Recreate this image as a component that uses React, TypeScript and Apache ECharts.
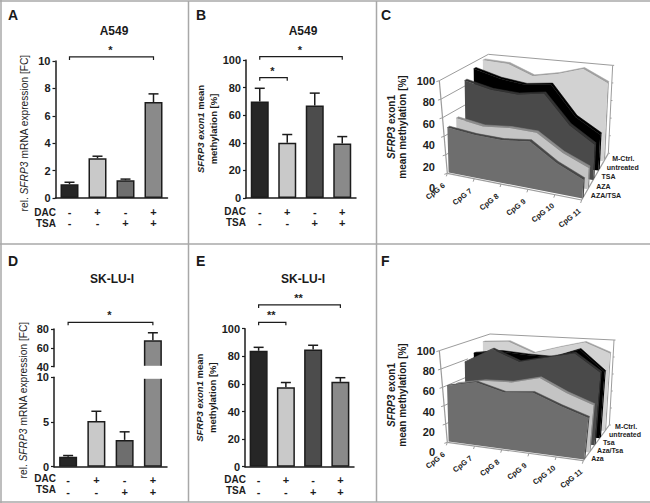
import React, { useEffect, useRef } from "react";
import * as echarts from "echarts";

const FONT = "Liberation Sans";
const INK = "#1c1c1c";

// ---------- bar panel data ----------
const dacRow = ["-", "+", "-", "+"];
const tsaRow = ["-", "-", "+", "+"];
const groupLabels = dacRow.map((d, i) => `${d}\n${tsaRow[i]}`);

const aMeans = [1.0, 2.9, 1.3, 7.0];
const aTops = [1.15, 3.05, 1.38, 7.6];
const bMeans = [70, 40, 67, 39.5];
const bTops = [79.5, 46, 76, 44.5];
const dMeans = [1.1, 5.1, 3.0, 68];
const dTops = [1.25, 6.2, 3.9, 76];
const eMeans = [84, 57.5, 85, 61.5];
const eTops = [86.5, 61, 88, 64.5];

// ---------- 3D panel data (front to back) ----------
const cpgLabels = ["CpG 6", "CpG 7", "CpG 8", "CpG 9", "CpG 10", "CpG 11"];
const percentTicks = [0, 20, 40, 60, 80, 100];
const cDepthLabels = ["AZA/TSA", "AZA", "TSA", "untreated", "M-Ctrl."];
const cAzaTsa = [48.6, 45, 44, 47, 29.5, 18];
const cAza = [53, 48, 50, 49, 32, 21];
const cTsa = [88, 81, 79, 83, 53, 36];
const cUntreated = [95, 87, 83, 86, 54, 38];
const cMCtrl = [98.5, 97, 86, 91, 99, 86];
const fDepthLabels = ["Aza", "Aza/Tsa", "Tsa", "untreated", "M-Ctrl."];
const fAza = [61, 68, 60, 63, 52, 43];
const fAzaTsa = [59, 65, 66, 73.5, 60, 50];
const fTsa = [79, 96, 84, 91, 98, 79];
const fUntreated = [85, 89, 87, 86, 97, 74];
const fMCtrl = [94, 96, 84, 92.5, 100, 89];

const slabFill = ["#6e6e6e", "#c4c4c4", "#4a4a4a", "#000000", "#d2d2d2"];
const slabEdge = ["#474747", "#8c8c8c", "#333333", "#000000", "#a0a0a0"];

type Pt = [number, number];
type Cube = { fbl: Pt; ftl: Pt; bbl: Pt; btl: Pt; fbr: Pt; ftr: Pt; bbr: Pt; btr: Pt };

const mix = (a: Pt, b: Pt, t: number): Pt => [a[0] + (b[0] - a[0]) * t, a[1] + (b[1] - a[1]) * t];
const project = (c: Cube, x: number, v: number, d: number): Pt => {
  const bottom = mix(mix(c.fbl, c.fbr, x), mix(c.bbl, c.bbr, x), d);
  const top = mix(mix(c.ftl, c.ftr, x), mix(c.btl, c.btr, x), d);
  return mix(bottom, top, v / 100);
};

const option: any = {
  animation: false,
  backgroundColor: "#ffffff",
  textStyle: { fontFamily: FONT },
  title: [],
  grid: [],
  xAxis: [],
  yAxis: [],
  series: [],
  graphic: [],
};

function addTitle(text: string, left: number, top: number, size: number, center: boolean) {
  option.title.push({
    text,
    left,
    top,
    padding: 0,
    textAlign: center ? "center" : "left",
    textStyle: { fontFamily: FONT, fontSize: size, fontWeight: "bold", color: "#1a1a1a" },
  });
}

function addGrid(left: number, top: number, width: number, height: number, xShow: boolean, yCfg: any) {
  const idx = option.grid.length;
  option.grid.push({ left, top, width, height });
  option.xAxis.push({
    type: "category",
    gridIndex: idx,
    data: groupLabels,
    show: xShow,
    axisLine: { onZero: false, lineStyle: { color: INK, width: 1.5 } },
    axisTick: { alignWithLabel: true, length: 3, lineStyle: { color: INK, width: 1.2 } },
    axisLabel: {
      interval: 0,
      margin: 8,
      fontFamily: FONT,
      fontSize: 11,
      fontWeight: "bold",
      color: INK,
      lineHeight: 11.5,
      verticalAlign: "top",
    },
  });
  option.yAxis.push({
    type: "value",
    gridIndex: idx,
    axisLine: { show: true, lineStyle: { color: INK, width: 1.5 } },
    axisTick: { show: true, length: 3, lineStyle: { color: INK, width: 1.2 } },
    axisLabel: { margin: 5, fontFamily: FONT, fontSize: 11, fontWeight: "bold", color: INK },
    splitLine: { show: false },
    ...yCfg,
  });
  return idx;
}

function addBars(idx: number, means: (number | null)[], tops: (number | null)[], colors: string[]) {
  option.series.push({
    type: "bar",
    xAxisIndex: idx,
    yAxisIndex: idx,
    data: means,
    barWidth: 18,
    itemStyle: { color: (p: any) => colors[p.dataIndex], borderColor: INK, borderWidth: 1.5 },
  });
  const errData = means
    .map((m, i) => [i, m, tops[i]])
    .filter((r) => r[1] !== null && r[2] !== null);
  option.series.push({
    type: "custom",
    xAxisIndex: idx,
    yAxisIndex: idx,
    encode: { x: 0, y: [1, 2] },
    data: errData,
    z: 3,
    renderItem: (_: any, api: any) => {
      const i = api.value(0);
      const a = api.coord([i, api.value(1)]);
      const b = api.coord([i, api.value(2)]);
      const st = { stroke: INK, lineWidth: 1.5, fill: "none" };
      return {
        type: "group",
        children: [
          { type: "line", shape: { x1: a[0], y1: a[1], x2: b[0], y2: b[1] }, style: st },
          { type: "line", shape: { x1: b[0] - 5, y1: b[1], x2: b[0] + 5, y2: b[1] }, style: st },
        ],
      };
    },
  });
}

function addBracket(idx: number, rows: number[][], stars: string[]) {
  option.series.push({
    type: "custom",
    xAxisIndex: idx,
    yAxisIndex: idx,
    encode: { x: [0, 1], y: 2 },
    data: rows,
    z: 4,
    renderItem: (p: any, api: any) => {
      const a = api.coord([api.value(0), api.value(2)]);
      const b = api.coord([api.value(1), api.value(2)]);
      return {
        type: "group",
        children: [
          {
            type: "polyline",
            shape: { points: [[a[0], a[1] + 3], a, b, [b[0], b[1] + 3]] },
            style: { stroke: INK, lineWidth: 1.2, fill: "none" },
          },
          {
            type: "text",
            x: (a[0] + b[0]) / 2 - 1,
            y: a[1] - 7,
            style: {
              text: stars[p.dataIndex],
              fontFamily: FONT,
              fontSize: 11,
              fontWeight: "bold",
              fill: INK,
              align: "center",
              verticalAlign: "middle",
            },
          },
        ],
      };
    },
  });
}

function rowCaptions(right: number, y1: number, y2: number) {
  [["DAC", y1], ["TSA", y2]].forEach(([t, y]) => {
    option.graphic.push({
      type: "text",
      x: right,
      y,
      style: {
        text: t,
        fontFamily: FONT,
        fontSize: 10,
        fontWeight: "bold",
        fill: INK,
        align: "right",
        verticalAlign: "middle",
      },
    });
  });
}

const richRegular = {
  a: { fontFamily: FONT, fontSize: 10.2, color: INK },
  i: { fontFamily: FONT, fontSize: 10.2, fontStyle: "italic", color: INK },
};
const richBold = {
  a: { fontFamily: FONT, fontSize: 9.5, fontWeight: "bold", color: INK, lineHeight: 13 },
  i: { fontFamily: FONT, fontSize: 9.5, fontWeight: "bold", fontStyle: "italic", color: INK, lineHeight: 13 },
};
const nameRegular = "{a|rel. }{i|SFRP3}{a| mRNA expression [FC]}";
const nameBold = "{i|SFRP3 exon1}{a| mean}\n{a|methylation [%]}";
const percentAxis = { min: 0, max: 100, interval: 20 };

// Panel A
let g = addGrid(55.5, 61, 112, 137, true, {
  min: 0, max: 10, interval: 2, name: nameRegular, nameLocation: "middle", nameGap: 26,
  nameTextStyle: { rich: richRegular, padding: [0, 7, 0, 0] },
});
addBars(g, aMeans, aTops, ["#262626", "#c9c9c9", "#6e6e6e", "#8a8a8a"]);
addBracket(g, [[0, 3, 10.3]], ["*"]);

// Panel B
g = addGrid(246, 60, 110, 138, true, {
  ...percentAxis, name: nameBold, nameLocation: "middle", nameGap: 22,
  nameTextStyle: { rich: richBold },
});
addBars(g, bMeans, bTops, ["#262626", "#c9c9c9", "#4c4c4c", "#8a8a8a"]);
addBracket(g, [[0, 3, 102.4], [0, 1, 87.2]], ["*", "*"]);

// Panel D (broken axis: two stacked grids)
const dColors = ["#262626", "#c9c9c9", "#6e6e6e", "#8a8a8a"];
g = addGrid(54, 329, 113, 37.7, false, { min: 40, max: 80, interval: 20 });
addBars(g, [null, null, null, dMeans[3]], [null, null, null, dTops[3]], dColors);
addBracket(g, [[0, 3, 87.1]], ["*"]);
g = addGrid(54, 377.3, 113, 89.4, true, {
  min: 0, max: 10, interval: 5, name: nameRegular, nameLocation: "middle", nameGap: 26,
  nameTextStyle: { rich: richRegular, padding: [0, 0, 0, 44] },
});
addBars(g, [dMeans[0], dMeans[1], dMeans[2], dMeans[3]], [dTops[0], dTops[1], dTops[2], null], dColors);
// White gap of the broken bar: hides the bar's clipped edges
option.graphic.push({
  type: "rect",
  z: 100,
  shape: { x: 141, y: 365.8, width: 24, height: 13 },
  style: { fill: "#ffffff" },
  silent: true,
});

// Panel E
g = addGrid(245, 328.7, 109, 138, true, {
  ...percentAxis, name: nameBold, nameLocation: "middle", nameGap: 22,
  nameTextStyle: { rich: richBold },
});
addBars(g, eMeans, eTops, ["#262626", "#c9c9c9", "#4c4c4c", "#8a8a8a"]);
addBracket(g, [[0, 3, 117.2], [0, 1, 104.6]], ["**", "**"]);

// Titles
addTitle("A", 8, 8, 14, false);
addTitle("B", 196, 8, 14, false);
addTitle("C", 381, 8, 14, false);
addTitle("D", 8, 254, 14, false);
addTitle("E", 196, 254, 14, false);
addTitle("F", 381, 254, 14, false);
addTitle("A549", 114, 25, 12, true);
addTitle("A549", 303, 25, 12, true);
addTitle("SK-LU-I", 112, 273, 12, true);
addTitle("SK-LU-I", 303, 273, 12, true);

rowCaptions(56, 212, 223.5);
rowCaptions(246, 211, 222.5);
rowCaptions(56, 478, 489.5);
rowCaptions(246, 479, 490.5);

// Panel borders
[
  [0, 1, 650, 1], [1, 0, 1, 503], [0, 244, 650, 244], [0, 502, 650, 502],
  [188.5, 1, 188.5, 502], [376.5, 1, 376.5, 502],
].forEach(([x1, y1, x2, y2]) => {
  option.graphic.push({
    type: "line", shape: { x1, y1, x2, y2 }, style: { stroke: "#a8a8a8", lineWidth: 1.5 }, silent: true,
  });
});

// ---------- 3D panels ----------
function add3D(
  ox: number,
  oy: number,
  frameZ: Record<keyof Cube, Pt>,
  slabZ: Record<keyof Cube, Pt>,
  rows: number[][],
  depthLabels: string[],
  labelDrop: number,
  tickRight: number,
  nameY: number,
  labelStart: number,
  labelStep: number,
) {
  const toPx = (z: Record<keyof Cube, Pt>): Cube => {
    const out: any = {};
    (Object.keys(z) as (keyof Cube)[]).forEach((k) => {
      out[k] = [ox + z[k][0] / 3, oy + z[k][1] / 3];
    });
    return out;
  };
  const frame = toPx(frameZ);
  const slab = toPx(slabZ);
  const lineCol = "#9c9c9c";
  const seg = (a: Pt, b: Pt, w = 1) => ({
    type: "line",
    shape: { x1: a[0], y1: a[1], x2: b[0], y2: b[1] },
    style: { stroke: lineCol, lineWidth: w },
  });
  const label = (text: string, x: number, y: number, size: number, align: string, rotation = 0) => ({
    type: "text",
    x,
    y,
    rotation,
    style: {
      text,
      fontFamily: FONT,
      fontSize: size,
      fontWeight: "bold",
      fill: INK,
      align,
      verticalAlign: "middle",
    },
  });

  // Axes of the box: walls, ticks and labels
  option.series.push({
    type: "custom",
    coordinateSystem: "none",
    data: [[0]],
    z: 1,
    silent: true,
    renderItem: () => {
      const children: any[] = [
        seg(frame.ftl, frame.fbl, 1.2),
        seg(frame.ftl, frame.btl),
        seg(frame.btl, frame.btr),
        seg(frame.btr, frame.bbr),
        seg(frame.fbl, frame.fbr, 1.2),
        seg(frame.fbr, frame.bbr, 1.2),
      ];
      percentTicks.forEach((v) => {
        const p = project(frame, 0, v, 0);
        if (v > 0 && v < 100) children.push(seg(p, project(frame, 0, v, 0.55)));
        children.push(seg(p, [p[0] - 3, p[1] + 1]));
        const q = project(frame, 1, v, 1);
        children.push(seg(q, [q[0] + 1.5, q[1]]));
        children.push(label(String(v), tickRight, p[1] + (labelDrop * (100 - v)) / 100, 11, "right"));
      });
      cpgLabels.forEach((t, i) => {
        const p = project(frame, i / (cpgLabels.length - 1), 0, 0);
        children.push(seg(p, [p[0] - 1, p[1] + 3]));
        children.push(label(t, p[0] - 12, p[1] + 18, 7.5, "center", 0.66));
      });
      depthLabels.forEach((t, i) => {
        const p = project(frame, 1, 0, labelStart + labelStep * i);
        children.push(label(t, p[0] + 6.5, p[1], 7, "left"));
      });
      return { type: "group", children };
    },
  });

  // Slabs, back to front
  const order = rows.map((_, i) => rows.length - 1 - i);
  order.forEach((r) => {
    const d0 = 0.03 + 0.2 * r;
    const d1 = d0 + 0.05;
    const xAt = (i: number) => i / (rows[r].length - 1);
    option.series.push({
      type: "custom",
      name: depthLabels[r],
      coordinateSystem: "none",
      data: rows[r].map((v, i) => [i, v]),
      z: 2,
      silent: true,
      renderItem: (p: any) => {
        if (p.dataIndex !== 0) return null;
        const front = rows[r].map((v, i) => project(slab, xAt(i), v, d0));
        const back = rows[r].map((v, i) => project(slab, xAt(i), v, d1));
        const last = rows[r].length - 1;
        const fb0 = project(slab, 0, 0, d0);
        const fb1 = project(slab, 1, 0, d0);
        const bb1 = project(slab, 1, 0, d1);
        return {
          type: "group",
          children: [
            {
              type: "polygon",
              shape: { points: [front[last], back[last], bb1, fb1] },
              style: { fill: slabEdge[r] },
            },
            {
              type: "polygon",
              shape: { points: [...front, ...back.slice().reverse()] },
              style: { fill: slabEdge[r], stroke: slabEdge[r], lineWidth: 0.5 },
            },
            {
              type: "polygon",
              shape: { points: [...front, fb1, fb0] },
              style: { fill: slabFill[r] },
            },
          ],
        };
      },
    });
  });

  option.graphic.push({
    type: "text",
    x: ox + 27,
    y: nameY,
    rotation: Math.PI / 2,
    style: {
      text: "{i|SFRP3}{a| exon1}\n{a|mean methylation [%]}",
      rich: {
        a: { fontFamily: FONT, fontSize: 10, fontWeight: "bold", fill: INK, lineHeight: 11.5 },
        i: { fontFamily: FONT, fontSize: 10, fontWeight: "bold", fontStyle: "italic", fill: INK, lineHeight: 11.5 },
      },
      align: "center",
      verticalAlign: "middle",
    },
  });
}

const cFrame: any = {
  fbl: [232, 520], ftl: [208, 242], bbl: [362, 440], btl: [355, 163],
  fbr: [635, 600], ftr: [650, 286], bbr: [715, 460], btr: [728, 196],
};
const cSlab: any = { ...cFrame, ftl: [224, 242], btl: [362, 163] };
add3D(370, 0, cFrame, cSlab, [cAzaTsa, cAza, cTsa, cUntreated, cMCtrl], cDepthLabels, 15, 435, 127, 0.1, 0.2);

const fFrame: any = {
  fbl: [232, 577], ftl: [208, 302], bbl: [362, 500], btl: [360, 252],
  fbr: [640, 632], ftr: [655, 340], bbr: [718, 525], btr: [732, 270],
};
const fSlab: any = { ...fFrame, ftl: [224, 302], btl: [362, 252], ftr: [670, 340] };
add3D(370, 250, fFrame, fSlab, [fAza, fAzaTsa, fTsa, fUntreated, fMCtrl], fDepthLabels, 10, 435, 395, 0.05, 0.23);

export default function App() {
  const ref = useRef<HTMLDivElement>(null);
  useEffect(() => {
    const chart = echarts.init(ref.current as HTMLDivElement, undefined, { renderer: "svg" });
    chart.setOption(option);
    return () => chart.dispose();
  }, []);
  return <div ref={ref} style={{ position: "absolute", left: 0, top: 0, width: 650, height: 503 }} />;
}
